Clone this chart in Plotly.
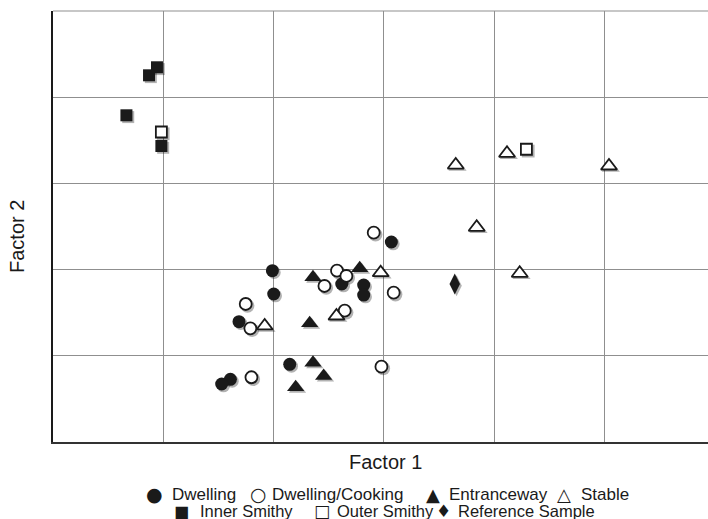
import plotly.graph_objects as go

# Factor scores (in grid units)
dwelling_x = [3.069, 1.990, 2.002, 2.619, 2.818, 2.818, 1.687, 2.147, 1.609, 1.530]
dwelling_y = [2.320, 1.987, 1.717, 1.833, 1.821, 1.705, 1.396, 0.901, 0.727, 0.673]

cooking_x = [2.909, 2.576, 2.661, 2.462, 3.090, 1.748, 2.646, 1.790, 1.800, 2.979]
cooking_y = [2.428, 1.987, 1.926, 1.810, 1.732, 1.601, 1.523, 1.319, 0.751, 0.874]

entrance_x = [2.358, 2.782, 2.328, 2.358, 2.455, 2.201]
entrance_y = [1.911, 2.015, 1.377, 0.920, 0.766, 0.635]

stable_x = [3.653, 4.118, 5.043, 3.843, 4.233, 2.972, 2.571, 1.920]
stable_y = [3.213, 3.349, 3.202, 2.491, 1.957, 1.964, 1.462, 1.346]

inner_x = [0.943, 0.871, 0.666, 0.983]
inner_y = [4.347, 4.254, 3.790, 3.434]

outer_x = [0.983, 4.294]
outer_y = [3.596, 3.396]

ref_x = [3.644]
ref_y = [1.833]

series_names = ["Dwelling", "Dwelling/Cooking", "Entranceway", "Stable",
                "Inner Smithy", "Outer Smithy", "Reference Sample"]
legend_glyphs = ["●", "○", "▲", "△", "■", "□", "♦"]
legend_glyph_sizes = [19, 19, 18, 18, 16, 17, 17]
legend_text_sizes = [17, 17, 17, 17, 16.5, 16.5, 16.5]

series = [
    (series_names[0], dwelling_x, dwelling_y, "circle", 13, "#1a1a1a", 0),
    (series_names[1], cooking_x, cooking_y, "circle", 12, "white", 1.8),
    (series_names[2], entrance_x, entrance_y, "triangle-up", 15, "#1a1a1a", 0),
    (series_names[3], stable_x, stable_y, "triangle-up", 14, "white", 1.8),
    (series_names[4], inner_x, inner_y, "square", 12, "#1a1a1a", 0),
    (series_names[5], outer_x, outer_y, "square", 11, "white", 1.8),
    (series_names[6], ref_x, ref_y, "diamond-tall", 15, "#1a1a1a", 0),
]

# ---- layout geometry ----
W, H = 708, 519
ML, MT, MB = 53, 11, 77
PLOT_W = W - ML
PLOT_H = H - MT - MB
PX_X = 110.25          # px per grid unit (x)
PX_Y = PLOT_H / 5.0    # px per grid unit (y)
X_MAX = PLOT_W / PX_X
Y_MAX = 5.0
SH = 1.8               # shadow offset px


def paper(px, py):
    """pixel -> paper coords"""
    return (px - ML) / PLOT_W, (MT + PLOT_H - py) / PLOT_H


fig = go.Figure()

# shadows on base axes (range shifted slightly)
for name, xs, ys, sym, size, fill, lw in series:
    fig.add_trace(go.Scatter(
        x=xs, y=ys, mode="markers", showlegend=False, hoverinfo="skip",
        xaxis="x", yaxis="y",
        marker=dict(symbol=sym, size=size + lw, color="rgba(0,0,0,0.3)",
                    line=dict(width=0)),
    ))

# real markers on overlay axes with true range
for name, xs, ys, sym, size, fill, lw in series:
    fig.add_trace(go.Scatter(
        x=xs, y=ys, mode="markers", name=name, showlegend=False,
        xaxis="x2", yaxis="y2",
        marker=dict(symbol=sym, size=size, color=fill,
                    line=dict(width=lw, color="#1a1a1a")),
    ))

grid = dict(showgrid=True, gridcolor="#8f8f8f", gridwidth=1, zeroline=False,
            showticklabels=False, ticks="", dtick=1)

annotations = []
# axis titles
ax_, ay_ = paper(385, 462)
annotations.append(dict(text="Factor 1", xref="paper", yref="paper", x=ax_, y=ay_,
                        xanchor="center", yanchor="middle", showarrow=False,
                        font=dict(size=20)))
ax_, ay_ = paper(17, 237)
annotations.append(dict(text="Factor 2", xref="paper", yref="paper", x=ax_, y=ay_,
                        xanchor="center", yanchor="middle", showarrow=False,
                        textangle=-90, font=dict(size=20)))

# legend (text glyphs, as in the original)
legend_sym_x = [154, 258, 433, 564, 181, 322, 444]
legend_txt_x = [170, 270, 447, 579, 198, 335, 456]
legend_row_y = [494, 494, 494, 494, 511.5, 511.5, 511.5]
for i, name in enumerate(series_names):
    sx, sy = paper(legend_sym_x[i], legend_row_y[i])
    annotations.append(dict(text=legend_glyphs[i], xref="paper", yref="paper",
                            x=sx, y=sy, xanchor="center", yanchor="middle",
                            showarrow=False,
                            font=dict(size=legend_glyph_sizes[i], family="DejaVu Sans")))
    tx, ty = paper(legend_txt_x[i], legend_row_y[i])
    annotations.append(dict(text=name, xref="paper", yref="paper",
                            x=tx, y=ty, xanchor="left", yanchor="middle",
                            showarrow=False, font=dict(size=legend_text_sizes[i])))

fig.update_layout(
    width=W, height=H,
    margin=dict(l=ML, r=0, t=MT, b=MB, autoexpand=False),
    paper_bgcolor="white", plot_bgcolor="white",
    showlegend=False,
    font=dict(family="Liberation Sans, Arial, sans-serif", color="#1a1a1a"),
    xaxis=dict(range=[-SH / PX_X, X_MAX - SH / PX_X], showgrid=False, zeroline=False,
               showticklabels=False, ticks="", showline=False),
    yaxis=dict(range=[SH / PX_Y, Y_MAX + SH / PX_Y], showgrid=False, zeroline=False,
               showticklabels=False, ticks="", showline=False),
    xaxis2=dict(range=[0, X_MAX], overlaying="x", anchor="y2", side="bottom",
                showline=True, linecolor="#333", linewidth=2, **grid),
    yaxis2=dict(range=[0, Y_MAX], overlaying="y", anchor="x2", side="left",
                showline=True, linecolor="#1a1a1a", linewidth=2, **grid),
    shapes=[dict(type="line", xref="paper", yref="paper", x0=0, x1=1, y0=1, y1=1,
                 line=dict(color="#8f8f8f", width=1), layer="below")],
    annotations=annotations,
)

fig.write_html(
    "out.html",
    config={"displayModeBar": False},
    post_script="document.body.style.margin='0';document.body.style.overflow='hidden';",
)
